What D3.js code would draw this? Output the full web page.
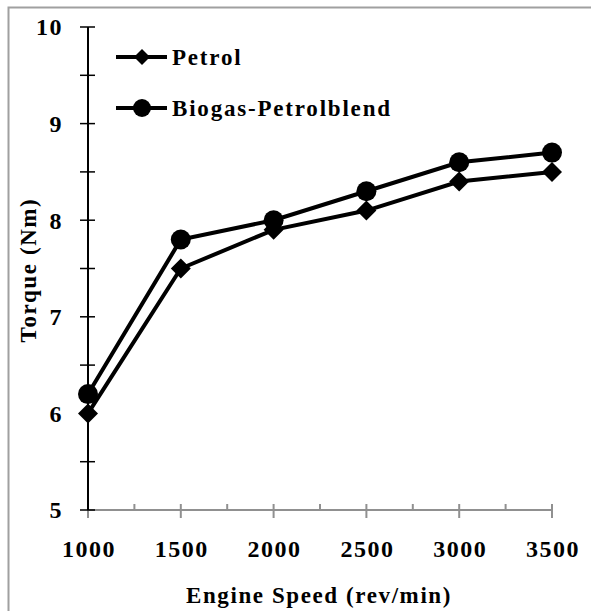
<!DOCTYPE html>
<html>
<head>
<meta charset="utf-8">
<script src="https://cdn.jsdelivr.net/npm/d3@7"></script>
<style>
    body { margin: 0; background: #fff; }
    text { font-family: "Liberation Serif", "Times New Roman", serif; font-weight: bold; fill: #000; }
</style>
</head>
<body>
<div id="chart"></div>
<script>
// chart data
const speeds = [1000, 1500, 2000, 2500, 3000, 3500];
const petrol = [6.0, 7.5, 7.9, 8.1, 8.4, 8.5];
const biogas = [6.2, 7.8, 8.0, 8.3, 8.6, 8.7];
const seriesNames = ["Petrol", "Biogas-Petrolblend"];
const yTicks = [5, 6, 7, 8, 9, 10];

const svgWidth = 591;
const svgHeight = 611;
const margin = { top: 27, right: 39, bottom: 101, left: 88 };
const width = svgWidth - margin.left - margin.right;
const height = svgHeight - margin.top - margin.bottom;

const svg = d3.select("#chart")
    .append("svg")
    .attr("width", svgWidth)
    .attr("height", svgHeight);

// outer frame (runs off the right and bottom)
svg.append("rect")
    .attr("x", 8.5).attr("y", 7.5)
    .attr("width", 640).attr("height", 640)
    .attr("fill", "none")
    .attr("stroke", "#a0a0a0")
    .attr("stroke-width", 2);

const chartGroup = svg.append("g")
    .attr("transform", `translate(${margin.left}, ${margin.top})`);

const xScale = d3.scaleLinear().domain([1000, 3500]).range([0, width]);
const yScale = d3.scaleLinear().domain([5, 10]).range([height, 0]);

// x axis (grey), major ticks cross, minor ticks above
const xAxis = chartGroup.append("g").attr("transform", `translate(0, ${height})`);
xAxis.append("line")
    .attr("x1", 0).attr("x2", width)
    .attr("stroke", "#909090").attr("stroke-width", 2);
xAxis.selectAll(".major")
    .data(speeds)
    .enter().append("line")
    .attr("x1", d => xScale(d)).attr("x2", d => xScale(d))
    .attr("y1", -6).attr("y2", 8)
    .attr("stroke", "#909090").attr("stroke-width", 2);
xAxis.selectAll(".minor")
    .data(d3.range(1250, 3500, 500))
    .enter().append("line")
    .attr("x1", d => xScale(d)).attr("x2", d => xScale(d))
    .attr("y1", -6).attr("y2", 0)
    .attr("stroke", "#909090").attr("stroke-width", 2);
xAxis.selectAll("text")
    .data(speeds)
    .enter().append("text")
    .attr("x", d => xScale(d) + 1)
    .attr("y", 47)
    .attr("text-anchor", "middle")
    .attr("font-size", "24px")
    .attr("letter-spacing", "1.5px")
    .text(d => d);

// y axis (black), ticks cross the line
const yAxis = chartGroup.append("g");
yAxis.append("line")
    .attr("y1", 0).attr("y2", height)
    .attr("stroke", "#000").attr("stroke-width", 2);
yAxis.selectAll(".tick")
    .data(d3.range(5, 10.01, 0.5))
    .enter().append("line")
    .attr("x1", -8).attr("x2", 7)
    .attr("y1", d => yScale(d)).attr("y2", d => yScale(d))
    .attr("stroke", "#000").attr("stroke-width", 1.5);
yAxis.selectAll("text")
    .data(yTicks)
    .enter().append("text")
    .attr("x", -25)
    .attr("y", d => yScale(d))
    .attr("dy", "0.35em")
    .attr("text-anchor", "end")
    .attr("font-size", "24px")
    .attr("letter-spacing", "1.5px")
    .text(d => d);

// axis titles
svg.append("text")
    .attr("transform", "translate(36, 270) rotate(-90)")
    .attr("text-anchor", "middle")
    .attr("font-size", "23px")
    .attr("letter-spacing", "1.6px")
    .text("Torque (Nm)");

svg.append("text")
    .attr("x", 319)
    .attr("y", 603)
    .attr("text-anchor", "middle")
    .attr("font-size", "23px")
    .attr("letter-spacing", "1.6px")
    .text("Engine Speed  (rev/min)");

// lines and markers
const line = d3.line()
    .x((d, i) => xScale(speeds[i]))
    .y(d => yScale(d));

const diamond = s => `M0,${-s}L${s},0L0,${s}L${-s},0Z`;

[petrol, biogas].forEach(function (values) {
    chartGroup.append("path")
        .datum(values)
        .attr("d", line)
        .attr("fill", "none")
        .attr("stroke", "#000")
        .attr("stroke-width", 4);
});

chartGroup.selectAll(".pet")
    .data(petrol)
    .enter().append("path")
    .attr("transform", (d, i) => `translate(${xScale(speeds[i])}, ${yScale(d)})`)
    .attr("d", diamond(10))
    .attr("fill", "#000");

chartGroup.selectAll(".bio")
    .data(biogas)
    .enter().append("circle")
    .attr("cx", (d, i) => xScale(speeds[i]))
    .attr("cy", d => yScale(d))
    .attr("r", 10)
    .attr("fill", "#000");

// legend
const legend = svg.append("g");
seriesNames.forEach(function (name, i) {
    const y = 57 + i * 51;
    legend.append("line")
        .attr("x1", 116).attr("x2", 167)
        .attr("y1", y).attr("y2", y)
        .attr("stroke", "#000").attr("stroke-width", 4);
    if (i === 0) {
        legend.append("path")
            .attr("transform", `translate(142, ${y})`)
            .attr("d", diamond(8))
            .attr("fill", "#000");
    } else {
        legend.append("circle")
            .attr("cx", 142).attr("cy", y).attr("r", 9)
            .attr("fill", "#000");
    }
    legend.append("text")
        .attr("x", 172)
        .attr("y", y)
        .attr("dy", "0.35em")
        .attr("font-size", "23px")
        .attr("letter-spacing", "1.8px")
        .text(name);
});
</script>
</body>
</html>
